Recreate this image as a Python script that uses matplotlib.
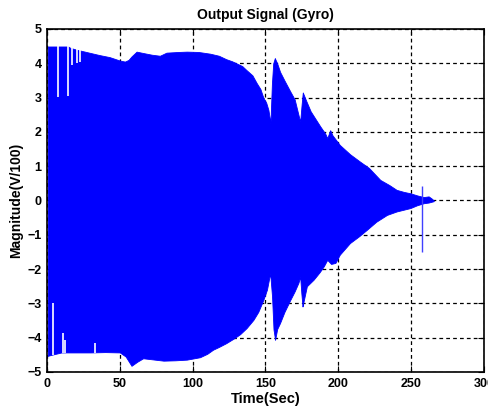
import numpy as np
import matplotlib
matplotlib.use("Agg")
import matplotlib.pyplot as plt

# envelope of the gyro output
t_upper = [0.5, 14.5, 16, 20, 25, 30, 36, 43, 50, 53.5, 56, 58, 61.5, 66, 72, 77.5,
           82, 90, 96, 104, 112, 118, 123, 127, 130, 134, 137, 141, 144, 146.5,
           148.5, 150.5, 152, 153.4, 154.4, 155.3, 156.4, 158, 160, 163, 167, 170,
           172.6, 173.8, 174.8, 175.6, 178, 181, 187.6, 191, 192.4, 194.4, 196,
           201, 208, 215, 221, 228.8, 235, 240, 245, 249.5, 254, 258.6, 262,
           264, 265.5]
upper = [4.49, 4.49, 4.45, 4.4, 4.35, 4.3, 4.24, 4.18, 4.08, 4.05, 4.1, 4.2, 4.34,
         4.3, 4.25, 4.22, 4.31, 4.33, 4.34, 4.33, 4.28, 4.22, 4.12, 4.06, 4.0,
         3.92, 3.8, 3.65, 3.42, 3.25, 3.0, 2.85, 2.64, 2.26, 3.4, 4.0, 4.15, 4.0,
         3.75, 3.5, 3.18, 2.95, 2.5, 2.3, 2.8, 3.15, 2.9, 2.6, 2.16, 1.95, 1.82,
         2.05, 1.9, 1.62, 1.35, 1.13, 0.95, 0.6, 0.45, 0.31, 0.25, 0.21, 0.15,
         0.1, 0.12, 0.06, 0.0]

t_lower = [0.5, 3, 10, 20, 30, 40, 50, 54, 58, 62, 66, 72, 80, 88, 96, 105, 110,
           114, 118, 123, 128, 132.5, 137, 141.7, 145, 148.5, 151, 153.2, 154.5,
           155.5, 156.6, 158, 160, 163, 167, 170, 172.6, 173.8, 174.6, 175.4,
           178.4, 183, 187, 190, 192.4, 195, 198, 201, 208, 214, 219.7, 226,
           233.4, 240, 249.5, 254, 258.6, 262, 265.5]
lower = [-4.53, -4.5, -4.43, -4.43, -4.43, -4.42, -4.43, -4.55, -4.82, -4.7,
         -4.6, -4.63, -4.67, -4.66, -4.64, -4.57, -4.47, -4.35, -4.27, -4.16,
         -4.03, -3.9, -3.72, -3.48, -3.25, -2.9, -2.6, -2.12, -2.8, -3.76, -4.06,
         -3.75, -3.57, -3.25, -2.9, -2.65, -2.4, -2.22, -2.7, -3.09, -2.5, -2.31,
         -2.1, -1.92, -1.73, -1.85, -1.82, -1.58, -1.24, -1.05, -0.85, -0.62,
         -0.42, -0.32, -0.22, -0.14, -0.08, -0.06, -0.02]

# places where the signal did not reach the envelope
gap_up_t = [7.6, 14.5, 17.3, 20.3, 22.6]
gap_up_v = [3.03, 3.05, 3.96, 4.0, 4.05]
gap_lo_t = [4.2, 11.0, 12.7, 33.0]
gap_lo_v = [-2.99, -3.87, -4.06, -4.16]

# lone spike near the end
spike_t = 257.5
spike_lo, spike_hi = -1.5, 0.41

xticks = [0, 50, 100, 150, 200, 250, 300]
yticks = [-5, -4, -3, -2, -1, 0, 1, 2, 3, 4, 5]

plt.rcParams['font.family'] = ['Liberation Sans', 'DejaVu Sans']
plt.rcParams['font.weight'] = 'bold'

fig = plt.figure(figsize=(4.88, 4.13), dpi=100)
ax = fig.add_axes([0.0963, 0.0993, 0.8955, 0.8305])

tt = np.union1d(t_upper, t_lower)
up = np.interp(tt, t_upper, upper)
lo = np.interp(tt, t_lower, lower)
ax.fill_between(tt, lo, up, color=(0, 0, 1), linewidth=0.6, edgecolor=(0, 0, 1))

up_top = np.interp(gap_up_t, t_upper, upper)
ax.vlines(gap_up_t, gap_up_v, up_top + 0.02, colors="white", linewidth=1.2)
lo_bot = np.interp(gap_lo_t, t_lower, lower)
ax.vlines(gap_lo_t, lo_bot - 0.02, gap_lo_v, colors="white", linewidth=1.2)
ax.vlines([spike_t], [spike_lo], [spike_hi], colors=(0.25, 0.25, 1), linewidth=1)

ax.set_xlim(0, 300)
ax.set_ylim(-5, 5)
ax.set_xticks(xticks)
ax.set_yticks(yticks)
ax.set_axisbelow(True)
ax.grid(True, color="black", linestyle=(0, (3, 2.5)), linewidth=0.9)
ax.tick_params(direction="in", top=True, right=True, length=4, labelsize=9, pad=4)
for s in ax.spines.values():
    s.set_linewidth(1.2)

ax.set_title("Output Signal (Gyro)", fontsize=10, fontweight="bold", pad=7)
ax.set_xlabel("Time(Sec)", fontsize=10.5, fontweight="bold", labelpad=2)
ax.set_ylabel("Magnitude(V/100)", fontsize=10, fontweight="bold", labelpad=3)

fig.savefig("out.png", dpi=100)
